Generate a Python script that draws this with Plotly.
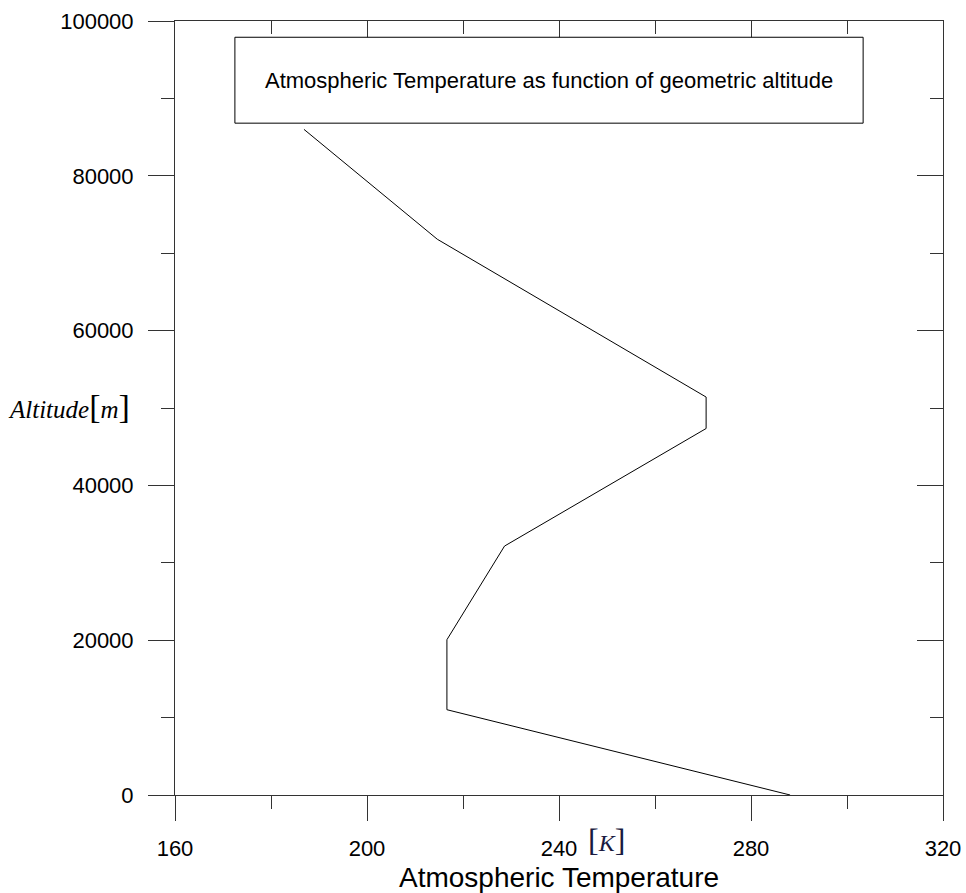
import plotly.graph_objects as go

# Standard atmosphere (geometric altitude)
altitude_m = [0, 11019, 20063, 32162, 47350, 51413, 71802, 86000]
temperature_K = [288.15, 216.65, 216.65, 228.65, 270.65, 270.65, 214.65, 186.87]

x_range = [160, 320]
y_range = [0, 100000]
legend_text = "Atmospheric Temperature as function of geometric altitude"
x_title = "Atmospheric Temperature"

AX = "#333333"
TICKFONT = dict(family="Liberation Sans, Arial, sans-serif", size=22, color="black")

fig = go.Figure()
fig.add_trace(go.Scatter(x=temperature_K, y=altitude_m, mode="lines",
                         line=dict(color="black", width=1), showlegend=False,
                         hoverinfo="skip"))
# mirror trace for top/right axes (invisible)
fig.add_trace(go.Scatter(x=temperature_K, y=altitude_m, mode="lines",
                         line=dict(color="rgba(0,0,0,0)", width=0), showlegend=False,
                         hoverinfo="skip", xaxis="x2", yaxis="y2"))

fig.update_layout(
    width=966, height=893,
    margin=dict(l=175, r=23, t=21, b=98),
    paper_bgcolor="white", plot_bgcolor="white",
    xaxis=dict(range=x_range, tick0=160, dtick=40, ticks="outside", ticklen=25,
               tickcolor=AX, showline=True, linecolor=AX, linewidth=1,
               showgrid=False, zeroline=False, tickfont=TICKFONT,
               ticklabelstandoff=9, tickformat="d", automargin=False,
               ticklabeloverflow="allow",
               minor=dict(dtick=20, tick0=160, ticks="outside", ticklen=13,
                          tickcolor=AX, showgrid=False)),
    yaxis=dict(range=y_range, tick0=0, dtick=20000, ticks="outside", ticklen=26,
               tickcolor=AX, showline=True, linecolor=AX, linewidth=1,
               showgrid=False, zeroline=False, tickfont=TICKFONT,
               ticklabelstandoff=10, tickformat="d", automargin=False,
               ticklabeloverflow="allow",
               minor=dict(dtick=10000, tick0=0, ticks="outside", ticklen=13,
                          tickcolor=AX, showgrid=False)),
    xaxis2=dict(range=x_range, overlaying="x", side="top", anchor="y2",
                tick0=160, dtick=40, ticks="inside", ticklen=25, tickcolor=AX,
                showline=True, linecolor=AX, linewidth=1, showgrid=False,
                zeroline=False, showticklabels=False, automargin=False,
                minor=dict(dtick=20, tick0=160, ticks="inside", ticklen=13,
                           tickcolor=AX, showgrid=False)),
    yaxis2=dict(range=y_range, overlaying="y", side="right", anchor="x2",
                tick0=0, dtick=20000, ticks="inside", ticklen=26, tickcolor=AX,
                showline=True, linecolor=AX, linewidth=1, showgrid=False,
                zeroline=False, showticklabels=False, automargin=False,
                minor=dict(dtick=10000, tick0=0, ticks="inside", ticklen=13,
                           tickcolor=AX, showgrid=False)),
    shapes=[dict(type="rect", xref="paper", yref="paper",
                 x0=0.078, x1=0.896, y0=0.868, y1=0.979,
                 line=dict(color="black", width=1), fillcolor="white")],
    annotations=[
        dict(text=legend_text, xref="paper", yref="paper", x=0.487, y=0.9235,
             showarrow=False, xanchor="center", yanchor="middle",
             font=dict(family="Liberation Sans, Arial, sans-serif", size=22, color="black")),
        dict(text=x_title, xref="paper", yref="paper", x=0.5, y=-0.106,
             showarrow=False, xanchor="center", yanchor="middle",
             font=dict(family="Liberation Sans, Arial, sans-serif", size=28, color="black")),
        dict(text="<span style='font-size:32px'>[</span><i>K</i><span style='font-size:32px'>]</span>",
             xref="paper", yref="paper", x=0.562, y=-0.058,
             showarrow=False, xanchor="center", yanchor="middle",
             font=dict(family="Liberation Serif, Times New Roman, serif", size=24, color="#1a1a40")),
        dict(text="<i>Altitude</i><span style='font-size:34px'>[</span><i>m</i><span style='font-size:34px'>]</span>",
             xref="paper", yref="paper", x=-0.22, y=0.502,
             showarrow=False, xanchor="left", yanchor="middle",
             font=dict(family="Liberation Serif, Times New Roman, serif", size=25, color="black")),
    ],
)

fig.write_html("out.html", config={"displayModeBar": False},
               post_script="document.body.style.margin='0';document.body.style.overflow='hidden';")
